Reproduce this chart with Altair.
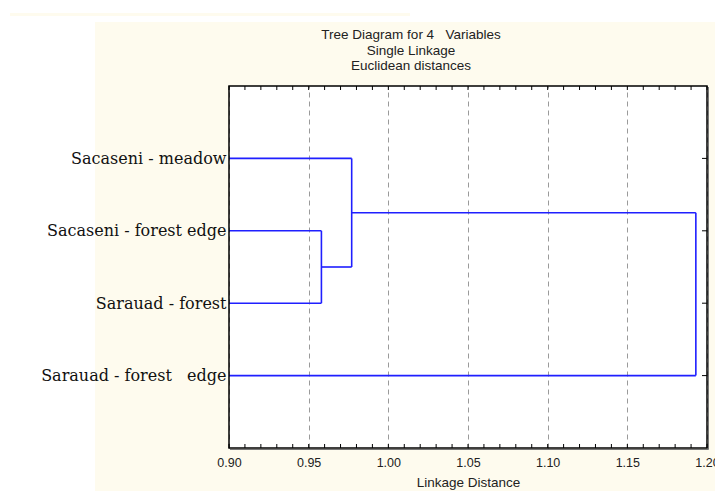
import json
import altair as alt
import pandas as pd

# ---- data ----
leaves = ["Sacaseni - meadow", "Sacaseni - forest edge", "Sarauad - forest", "Sarauad - forest\u00a0\u00a0 edge"]
# merges: (left member, right member, linkage distance); ints are leaf positions, strings are clusters
merge_left = [2, 1, "c2"]
merge_right = [3, "c1", 4]
merge_height = [0.958, 0.977, 1.193]
x_min, x_max = 0.90, 1.20
major_ticks = [0.90, 0.95, 1.00, 1.05, 1.10, 1.15, 1.20]
minor_ticks = [round(0.90 + 0.01 * i, 2) for i in range(31)]
title_lines = ["Tree Diagram for 4\u00a0\u00a0 Variables", "Single Linkage", "Euclidean distances"]

# ---- build dendrogram segments ----
pos = {i + 1: (float(i + 1), x_min) for i in range(len(leaves))}
segs = []
for k, (a, b, h) in enumerate(zip(merge_left, merge_right, merge_height)):
    ya, xa = pos[a]
    yb, xb = pos[b]
    segs.append(dict(x=xa, x2=h, y=ya, y2=ya))
    segs.append(dict(x=xb, x2=h, y=yb, y2=yb))
    segs.append(dict(x=h, x2=h, y=ya, y2=yb))
    pos["c%d" % (k + 1)] = ((ya + yb) / 2, h)
seg_df = pd.DataFrame(segs)

W, H = 478, 362
cream = "#FEFBEE"

xs = alt.Scale(domain=[x_min, x_max], nice=False, zero=False)
ys = alt.Scale(domain=[0, 5], reverse=True, nice=False, zero=False)

label_expr = json.dumps(leaves) + "[datum.value - 1]"

xaxis = alt.Axis(values=major_ticks, format=".2f", labelFont="Liberation Sans", labelFontSize=12.5,
                 labelColor="#222", ticks=False, domain=False, grid=True, gridDash=[5, 4],
                 gridColor="#9a9a9a", gridWidth=1, labelPadding=8, labelFlush=False,
                 title="Linkage Distance", titleFont="Liberation Sans", titleFontSize=13.5,
                 titleFontWeight="normal", titleColor="#222", titlePadding=7, zindex=0)
yaxis = alt.Axis(values=[1, 2, 3, 4], labelExpr=label_expr, labelFont="DejaVu Serif",
                 labelFontSize=16, labelColor="#111", ticks=False, domain=False, grid=False,
                 labelPadding=3, labelLimit=300, title=None, zindex=1)

# white areas outside the cream panel
bg_df = pd.DataFrame({"k": [0]})
white_left = alt.Chart(bg_df).mark_rect(color="white").encode(
    x=alt.value(-229), x2=alt.value(-134), y=alt.value(-86), y2=alt.value(H + 43))
white_top = alt.Chart(bg_df).mark_rect(color="white").encode(
    x=alt.value(-229), x2=alt.value(W + 8), y=alt.value(-86), y2=alt.value(-64))
cream_strip = alt.Chart(bg_df).mark_rect(color=cream).encode(
    x=alt.value(-219), x2=alt.value(181), y=alt.value(-73), y2=alt.value(-70))

title_df = pd.DataFrame({"line": title_lines, "i": [0, 1, 2]})
title = alt.Chart(title_df).mark_text(
    font="Liberation Sans", fontSize=13.5, color="#222", align="center", baseline="middle"
).encode(
    text="line:N",
    x=alt.value(182),
    y=alt.Y("i:Q", scale=alt.Scale(domain=[0, 2], range=[-51, -20]), axis=None),
)

lines = alt.Chart(seg_df).mark_rule(color="#1f1fff", strokeWidth=1.6).encode(
    x=alt.X("x:Q", scale=xs, axis=xaxis),
    x2="x2:Q",
    y=alt.Y("y:Q", scale=ys, axis=yaxis),
    y2="y2:Q",
)

tick_df = pd.DataFrame({"t": minor_ticks})
bottom_ticks = alt.Chart(tick_df).mark_rule(color="black", strokeWidth=1).encode(
    x=alt.X("t:Q", scale=xs), y=alt.value(H), y2=alt.value(H - 4))
top_ticks = alt.Chart(tick_df).mark_rule(color="black", strokeWidth=1).encode(
    x=alt.X("t:Q", scale=xs), y=alt.value(0), y2=alt.value(4))

leaf_df = pd.DataFrame({"p": [1, 2, 3, 4]})
right_ticks = alt.Chart(leaf_df).mark_rule(color="black", strokeWidth=1).encode(
    y=alt.Y("p:Q", scale=ys, axis=None), x=alt.value(W - 5), x2=alt.value(W))

frame = alt.Chart(bg_df).mark_rect(fillOpacity=0, stroke="black", strokeWidth=1.5).encode(
    x=alt.value(0), x2=alt.value(W), y=alt.value(0), y2=alt.value(H))
shadow_r = alt.Chart(bg_df).mark_rule(color="#777", strokeWidth=1).encode(
    x=alt.value(W + 1.5), y=alt.value(1), y2=alt.value(H + 1.5))
shadow_b = alt.Chart(bg_df).mark_rule(color="#777", strokeWidth=1).encode(
    y=alt.value(H + 1.5), x=alt.value(1), x2=alt.value(W + 1.5))

chart = alt.layer(
    white_left, white_top, cream_strip, title, lines, bottom_ticks, top_ticks, right_ticks,
    frame, shadow_r, shadow_b
).resolve_scale(y="independent").properties(
    width=W, height=H,
    background=cream,
    padding={"left": 229, "top": 86, "right": 8, "bottom": 43},
    autosize=alt.AutoSizeParams(type="none"),
).configure_view(fill="white", stroke=None)

chart.save("out.html", embed_options={"renderer": "svg", "actions": False})
